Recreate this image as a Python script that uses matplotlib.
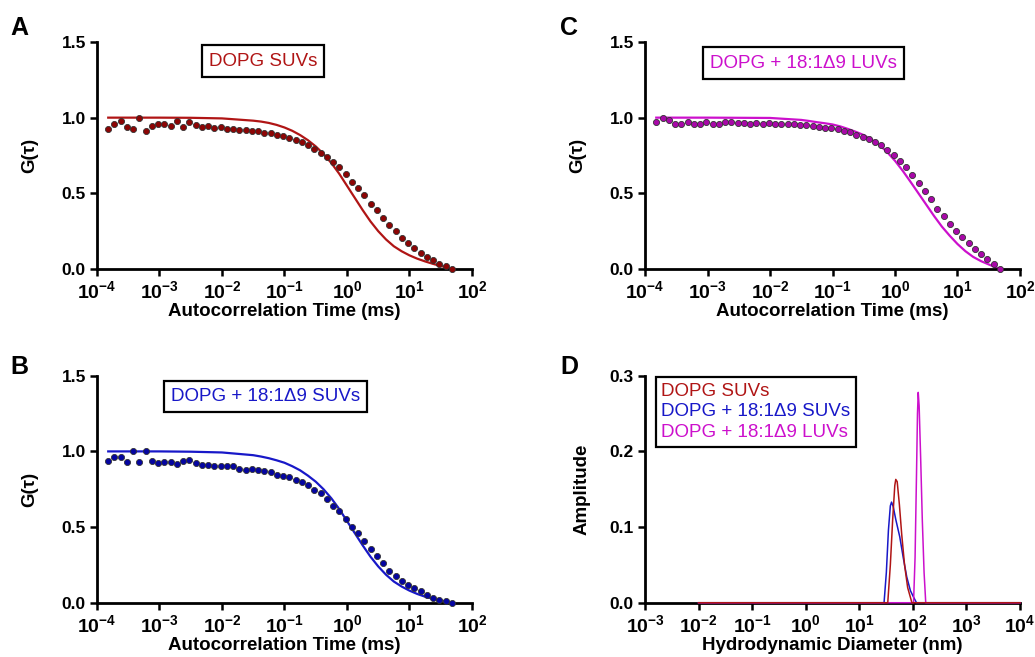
import matplotlib.pyplot as plt
import numpy as np

plt.rcParams['font.family'] = 'Liberation Sans'
plt.rcParams['mathtext.fontset'] = 'custom'
plt.rcParams['mathtext.rm'] = 'Liberation Sans:bold'
plt.rcParams['mathtext.bf'] = 'Liberation Sans:bold'
plt.rcParams['mathtext.it'] = 'Liberation Sans:bold'

# correlator lag channels, log10(ms)
log_tau = [-3.82, -3.72, -3.62, -3.52, -3.42, -3.32, -3.22, -3.12, -3.02, -2.92,
           -2.82, -2.72, -2.62, -2.52, -2.42, -2.32, -2.22, -2.12, -2.02, -1.92,
           -1.82, -1.72, -1.62, -1.52, -1.42, -1.32, -1.22, -1.12, -1.02, -0.92,
           -0.82, -0.72, -0.62, -0.52, -0.42, -0.32, -0.22, -0.12, -0.02, 0.08,
           0.18, 0.28, 0.38, 0.48, 0.58, 0.68, 0.78, 0.88, 0.98, 1.08,
           1.18, 1.28, 1.38, 1.48, 1.58, 1.68]

g_suv = [0.925, 0.958, 0.978, 0.941, 0.923, 1.000, 0.912, 0.947, 0.958, 0.958,
         0.947, 0.978, 0.939, 0.969, 0.952, 0.939, 0.947, 0.934, 0.939, 0.925,
         0.923, 0.916, 0.918, 0.914, 0.912, 0.901, 0.897, 0.886, 0.877, 0.864,
         0.850, 0.837, 0.820, 0.795, 0.769, 0.742, 0.705, 0.672, 0.625, 0.577,
         0.535, 0.487, 0.432, 0.388, 0.337, 0.289, 0.251, 0.207, 0.174, 0.141,
         0.108, 0.079, 0.057, 0.035, 0.018, 0.002]

g_mix_suv = [0.939, 0.961, 0.965, 0.930, 1.000, 0.932, 1.000, 0.939, 0.921, 0.930,
             0.928, 0.919, 0.939, 0.945, 0.921, 0.908, 0.908, 0.903, 0.903, 0.903,
             0.903, 0.886, 0.879, 0.884, 0.877, 0.872, 0.862, 0.846, 0.839, 0.831,
             0.813, 0.798, 0.778, 0.745, 0.723, 0.685, 0.641, 0.606, 0.553, 0.502,
             0.461, 0.410, 0.355, 0.311, 0.260, 0.209, 0.176, 0.141, 0.115, 0.099,
             0.077, 0.049, 0.033, 0.020, 0.009, 0.000]

g_mix_luv = [0.974, 0.996, 0.982, 0.960, 0.960, 0.969, 0.960, 0.956, 0.969, 0.960,
             0.960, 0.969, 0.969, 0.965, 0.965, 0.960, 0.965, 0.960, 0.965, 0.960,
             0.960, 0.960, 0.956, 0.952, 0.952, 0.947, 0.941, 0.932, 0.930, 0.923,
             0.912, 0.903, 0.886, 0.872, 0.861, 0.839, 0.820, 0.789, 0.753, 0.712,
             0.674, 0.623, 0.568, 0.518, 0.461, 0.395, 0.350, 0.300, 0.253, 0.211,
             0.170, 0.132, 0.097, 0.064, 0.035, 0.002]

fit_log = [-3.82, -3.0, -2.5, -2.0, -1.5, -1.375, -1.25, -1.125, -1.0, -0.875,
           -0.75, -0.625, -0.5, -0.375, -0.25, -0.125, 0.0, 0.125, 0.25, 0.375,
           0.5, 0.625, 0.75, 0.875, 1.0, 1.125, 1.25, 1.375, 1.5, 1.6, 1.68]
fit_suv = [1.0, 1.0, 0.999, 0.995, 0.98, 0.974, 0.965, 0.952, 0.935, 0.913,
           0.885, 0.851, 0.81, 0.76, 0.70, 0.63, 0.55, 0.47, 0.39, 0.315,
           0.25, 0.195, 0.15, 0.117, 0.09, 0.068, 0.05, 0.034, 0.02, 0.009, 0.0]
fit_mix_suv = [1.0, 1.0, 0.998, 0.993, 0.975, 0.966, 0.955, 0.941, 0.925, 0.902,
               0.875, 0.84, 0.80, 0.75, 0.69, 0.62, 0.54, 0.46, 0.38, 0.305,
               0.24, 0.185, 0.14, 0.107, 0.08, 0.058, 0.04, 0.026, 0.015, 0.006, 0.0]
fit_mix_luv = [1.0, 1.0, 0.999, 0.998, 0.985, 0.978, 0.97, 0.963, 0.955, 0.942,
               0.925, 0.906, 0.885, 0.855, 0.82, 0.772, 0.715, 0.648, 0.575, 0.50,
               0.425, 0.35, 0.28, 0.22, 0.165, 0.118, 0.08, 0.052, 0.03, 0.013, 0.0]

# size distributions (nm, amplitude)
diam_suv = [0.01, 34, 38, 42, 46, 48, 51, 56, 62, 70, 80, 96, 1e4]
amp_suv = [0, 0, 0.05, 0.11, 0.155, 0.163, 0.16, 0.13, 0.09, 0.05, 0.02, 0, 0]
diam_mix_suv = [0.01, 29, 32, 35, 38, 40, 43, 48, 57, 66, 77, 90, 102, 117, 1e4]
amp_mix_suv = [0, 0, 0.04, 0.096, 0.128, 0.133, 0.127, 0.11, 0.087, 0.06, 0.034, 0.016, 0.008, 0, 0]
diam_mix_luv = [0.01, 103, 110, 117, 122, 126, 131, 140, 150, 162, 174, 1e4]
amp_mix_luv = [0, 0, 0.06, 0.17, 0.25, 0.278, 0.26, 0.19, 0.11, 0.04, 0, 0]

names = ['DOPG SUVs', 'DOPG + 18:1\u03949 SUVs', 'DOPG + 18:1\u03949 LUVs']
line_colors = ['#b01515', '#1818c8', '#cc10cc']
dot_colors = ['#8c0505', '#0505a0', '#a808a8']


def style_axes(ax):
    for s in ['top', 'right']:
        ax.spines[s].set_visible(False)
    for s in ['left', 'bottom']:
        ax.spines[s].set_linewidth(2.0)
    ax.tick_params(direction='out', length=5, width=1.8, pad=3)
    ax.tick_params(axis='y', labelsize=12.5)
    ax.tick_params(axis='x', labelsize=14)
    for lab in ax.get_yticklabels():
        lab.set_fontweight('bold')


def decade_labels(lo, hi):
    return [r'$\mathbf{10^{%d}}$' % e for e in range(lo, hi + 1)]


def fcs_panel(ax, g, fit, k):
    ax.plot(10 ** np.array(fit_log), fit, color=line_colors[k], lw=1.6)
    ax.plot(10 ** np.array(log_tau), g, 'o', ms=4.4, color=dot_colors[k],
            mec='#333333', mew=0.6, clip_on=False, zorder=3)
    ax.set_xscale('log')
    ax.set_xlim(1e-4, 1e2)
    ax.set_ylim(0, 1.5)
    ax.set_xticks([10.0 ** e for e in range(-4, 3)], decade_labels(-4, 2))
    ax.minorticks_off()
    ax.set_yticks([0, 0.5, 1.0, 1.5])
    ax.set_xlabel('Autocorrelation Time (ms)', fontsize=13.5, fontweight='bold', labelpad=1)
    ax.set_ylabel('G(\u03c4)', fontsize=13.5, fontweight='bold', labelpad=17)
    style_axes(ax)


fig = plt.figure(figsize=(10.35, 6.57), dpi=100)
w, h = 0.3623, 0.3455
ax_a = fig.add_axes([0.0937, 0.5906, w, h])
ax_c = fig.add_axes([0.6232, 0.5906, w, h])
ax_b = fig.add_axes([0.0937, 0.0826, w, h])
ax_d = fig.add_axes([0.6232, 0.0826, w, h])

fcs_panel(ax_a, g_suv, fit_suv, 0)
fcs_panel(ax_b, g_mix_suv, fit_mix_suv, 1)
fcs_panel(ax_c, g_mix_luv, fit_mix_luv, 2)

box = dict(boxstyle='square,pad=0.38', fc='white', ec='black', lw=1.6)
ax_a.text(0.443, 0.916, names[0], transform=ax_a.transAxes, ha='center', va='center',
          fontsize=13.5, color=line_colors[0], bbox=box)
ax_b.text(0.449, 0.91, names[1], transform=ax_b.transAxes, ha='center', va='center',
          fontsize=13.5, color=line_colors[1], bbox=box)
ax_c.text(0.423, 0.907, names[2], transform=ax_c.transAxes, ha='center', va='center',
          fontsize=13.5, color=line_colors[2], bbox=box)

# panel D
ax_d.plot(diam_mix_suv, amp_mix_suv, color=line_colors[1], lw=1.1, label=names[1],
          zorder=3, clip_on=False)
ax_d.plot(diam_mix_luv, amp_mix_luv, color=line_colors[2], lw=1.1, label=names[2],
          zorder=3, clip_on=False)
ax_d.plot(diam_suv, amp_suv, color=line_colors[0], lw=1.1, label=names[0],
          zorder=3, clip_on=False)
ax_d.set_xscale('log')
ax_d.set_xlim(1e-3, 1e4)
ax_d.set_ylim(0, 0.3)
ax_d.set_xticks([10.0 ** e for e in range(-3, 5)], decade_labels(-3, 4))
ax_d.minorticks_off()
ax_d.set_yticks([0, 0.1, 0.2, 0.3], ['0.0', '0.1', '0.2', '0.3'])
ax_d.set_xlabel('Hydrodynamic Diameter (nm)', fontsize=13.5, fontweight='bold', labelpad=1)
ax_d.set_ylabel('Amplitude', fontsize=13.5, fontweight='bold', labelpad=14)
style_axes(ax_d)
handles, labels = ax_d.get_legend_handles_labels()
order = [2, 0, 1]
leg = ax_d.legend([handles[i] for i in order], [labels[i] for i in order],
                  loc='upper left', bbox_to_anchor=(0.028, 0.995), fontsize=13.5,
                  handlelength=0, handletextpad=0, borderpad=0.3, labelspacing=0.2,
                  fancybox=False, framealpha=1, edgecolor='black', borderaxespad=0)
leg.get_frame().set_linewidth(1.6)
for txt, c in zip(leg.get_texts(), line_colors):
    txt.set_color(c)
for hnd in leg.legend_handles:
    hnd.set_visible(False)

for x, y, s in [(0.01, 0.975, 'A'), (0.541, 0.975, 'C'), (0.01, 0.46, 'B'), (0.541, 0.46, 'D')]:
    fig.text(x, y, s, fontsize=18, fontweight='bold', va='top')

plt.savefig('out.png', dpi=100)
